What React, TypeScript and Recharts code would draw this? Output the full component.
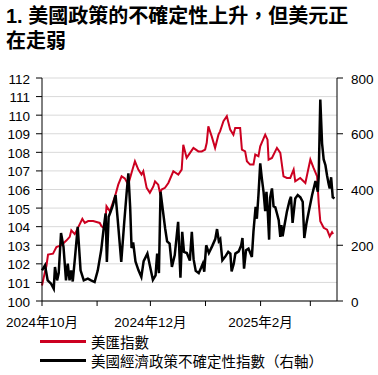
import React from "react";
import { LineChart, Line, XAxis, YAxis, CartesianGrid } from "recharts";

// days counted from 2024-10-01
const dxyDays = [
  0, 1.5, 2.5, 3.4, 6.2, 8.1, 10.9, 13.7, 15.6, 16.5, 18.4, 20.3, 22.7, 24.1, 26, 28.8, 30.7, 32.5, 33.5, 35.4,
  36.3, 38.2, 41, 42.9, 44.8, 46.6, 48.5, 50.4, 52.3, 54.2, 56, 57, 58.9, 60.7, 62.6, 63.6, 65.4, 66.4, 67.3, 69.2,
  71.1, 73.9, 76.7, 78.6, 79.5, 81.4, 83.3, 85.2, 88, 89.9, 91.8, 92.7, 93.6, 95.5, 97.4, 99.3, 100.2, 102.1, 104,
  105.9, 107.7, 108.7, 111.5, 112.5, 114.3, 115.3, 117.1, 119, 120, 121.8, 122.8, 125.6, 126.9, 127.5, 129.4, 132.2,
  134.1, 135.9, 137.8, 139.7, 141.6, 142.5, 145.3, 148.2, 151, 152.8, 154.8, 155.7, 156.6, 158.5, 160.4, 161.9,
  163.2, 163.8,
];
const dxyValues = [
  100.83, 101.5, 101.9, 102.5, 102.55, 102.9, 103.0, 103.25, 103.45, 103.8, 103.6, 103.95, 104.42, 104.2, 104.3,
  104.3, 104.25, 104.2, 104.02, 103.9, 105.1, 104.83, 105.6, 106.26, 106.71, 106.6, 106.26, 106.9, 107.52, 107.07,
  106.8, 106.98, 106.09, 105.82, 106.15, 106.44, 106.26, 105.82, 106.0, 106.09, 106.35, 106.98, 106.8, 107.07,
  108.41, 107.7, 107.97, 108.24, 108.05, 108.05, 108.15, 108.51, 109.4, 108.86, 108.24, 108.95, 109.13, 109.67,
  109.94, 109.22, 108.95, 109.31, 109.31, 108.15, 108.05, 107.52, 107.34, 107.34, 107.88, 107.79, 108.32, 108.95,
  108.68, 107.61, 107.7, 108.24, 107.97, 106.71, 106.62, 106.62, 107.07, 106.44, 106.62, 106.35, 107.61, 107.16,
  106.71, 105.28, 104.29, 103.94, 103.84, 103.48, 103.7, 103.6,
];

const epuDays = [
  0, 1.7, 3.2, 5.1, 6.6, 7.3, 8.5, 9.4, 10.7, 12.1, 13.5, 14.5, 15.5, 16.4, 17.3, 18.6, 20.1, 21.7, 23.5, 25.8,
  27.6, 29.6, 31.4, 33.3, 34.8, 35.8, 36.5, 37.5, 38.6, 39.9, 41.4, 42.5, 44.6, 46.3, 47.6, 48.6, 49.6, 50.4, 51.3,
  52.6, 54.3, 55.9, 57.2, 59.3, 60.6, 62.4, 63.9, 64.8, 65.8, 66.7, 68, 69.3, 70.4, 71.8, 73.1, 74.7, 76.6, 77.9,
  78.9, 79.9, 81.5, 83.2, 84.3, 85.3, 86.5, 88.2, 89.6, 90.5, 91.3, 92.4, 93.9, 95.7, 97.5, 98.5, 99.5, 100.3,
  101.5, 103.2, 104.8, 106, 106.7, 107.9, 108.8, 110.7, 112.1, 112.8, 113.7, 114.8, 116.2, 118.1, 119, 120.2,
  120.9, 121.8, 122.8, 123.7, 124.7, 125.6, 126.3, 126.9, 127.8, 128.4, 129.4, 130.3, 131.3, 132.3, 133.2, 134.1,
  134.7, 135.4, 136.4, 137.8, 139.3, 140.1, 141, 142.5, 143.9, 145.4, 146.7, 147.6, 148.8, 150.1, 152, 153.9,
  155.2, 155.7, 156.6, 157.6, 158.5, 159.5, 160.4, 161.3, 161.9, 162.7, 163.6, 164.6,
];
const epuValues = [
  110, 128, 74, 62, 44, 122, 74, 100, 244, 194, 74, 134, 74, 110, 70, 158, 266, 110, 74, 80, 74, 68, 110, 182, 266,
  314, 140, 302, 320, 344, 380, 300, 140, 285, 386, 458, 338, 190, 210, 142, 110, 86, 143, 170, 130, 76, 92, 170,
  100, 392, 326, 260, 214, 206, 122, 165, 284, 84, 248, 176, 172, 145, 248, 150, 108, 100, 120, 134, 105, 200, 172,
  196, 222, 258, 215, 222, 146, 160, 176, 170, 106, 134, 170, 178, 200, 226, 116, 182, 188, 158, 250, 338, 295, 380,
  494, 440, 390, 322, 392, 338, 220, 372, 404, 340, 336, 312, 290, 230, 272, 232, 270, 320, 360, 374, 280, 368, 380,
  372, 356, 226, 278, 320, 380, 430, 392, 446, 723, 565, 508, 487, 450, 420, 404, 444, 372, 368,
];

const monthTicks = [0, 31, 61, 92, 123, 151];
const monthLabels: Record<number, string> = { 0: "2024年10月", 61: "2024年12月", 123: "2025年2月" };
const leftTicks = [100, 101, 102, 103, 104, 105, 106, 107, 108, 109, 110, 111, 112];
const rightTicks = [0, 200, 400, 600, 800];

const dxyData = dxyDays.map((day, i) => ({ day, dxy: dxyValues[i] }));
const epuData = epuDays.map((day, i) => ({ day, epu: epuValues[i] }));

const FONT = '"Liberation Sans", Arial, "Noto Sans CJK TC", sans-serif';
const RED = "#cc0020";

const YTick = (props: any) => {
  const { x, y, payload, textAnchor } = props;
  return (
    <text x={x} y={y} dy={5.5} textAnchor={textAnchor} fontSize={13.5} fill="#000" fontFamily={FONT}>
      {payload.value}
    </text>
  );
};

const XTick = (props: any) => {
  const { x, y, payload } = props;
  const label = monthLabels[payload.value];
  if (!label) return null;
  return (
    <text x={x} y={y} dy={20} textAnchor="middle" fontSize={13.5} fill="#000" fontFamily={FONT}>
      {label}
    </text>
  );
};

const LegendRow = ({ color, text, top }: { color: string; text: string; top: number }) => (
  <div style={{ position: "absolute", left: 40, top, height: 18, display: "flex", alignItems: "center" }}>
    <div style={{ width: 46, height: 3, background: color, marginRight: 5 }} />
    <div
      style={{
        fontSize: 14.5,
        lineHeight: "17px",
        height: 17,
        fontFamily: '"Noto Sans CJK TC", sans-serif',
        color: "#000",
        whiteSpace: "nowrap",
      }}
    >
      {text}
    </div>
  </div>
);

export default function App() {
  return (
    <div style={{ position: "absolute", left: 0, top: 0, width: 378, height: 375, background: "#fff", fontFamily: FONT }}>
      <div
        style={{
          position: "absolute",
          left: 6,
          top: 4,
          fontSize: 20,
          lineHeight: "24.5px",
          fontWeight: "bold",
          color: "#000",
          whiteSpace: "nowrap",
        }}
      >
        1. 美國政策的不確定性上升，但美元正
        <br />
        在走弱
      </div>
      <div style={{ position: "absolute", left: 0, top: 0 }}>
        <LineChart width={378} height={331} margin={{ top: 78, right: 0, left: 0, bottom: 0 }}>
          <CartesianGrid yAxisId="left" vertical={false} stroke="#d9d9d9" />
          <XAxis
            dataKey="day"
            type="number"
            domain={[0, 166]}
            ticks={monthTicks}
            tick={<XTick />}
            tickSize={5}
            tickMargin={1}
            height={30}
            axisLine={{ stroke: "#000" }}
            tickLine={{ stroke: "#000" }}
            allowDuplicatedCategory={false}
          />
          <YAxis
            yAxisId="left"
            orientation="left"
            domain={[100, 112]}
            ticks={leftTicks}
            width={42}
            tickSize={6}
            tickMargin={6}
            tick={<YTick />}
            axisLine={{ stroke: "#000" }}
            tickLine={{ stroke: "#000" }}
            interval={0}
          />
          <YAxis
            yAxisId="right"
            orientation="right"
            domain={[0, 800]}
            ticks={rightTicks}
            width={41}
            tickSize={6}
            tickMargin={8}
            tick={<YTick />}
            axisLine={{ stroke: "#000" }}
            tickLine={{ stroke: "#000" }}
            interval={0}
          />
          <Line
            yAxisId="left"
            data={dxyData}
            dataKey="dxy"
            type="linear"
            stroke={RED}
            strokeWidth={2}
            dot={false}
            isAnimationActive={false}
          />
          <Line
            yAxisId="right"
            data={epuData}
            dataKey="epu"
            type="linear"
            stroke="#000"
            strokeWidth={2.5}
            dot={false}
            isAnimationActive={false}
          />
        </LineChart>
      </div>
      <LegendRow color={RED} text="美匯指數" top={332} />
      <LegendRow color="#000" text="美國經濟政策不確定性指數（右軸）" top={351} />
    </div>
  );
}
